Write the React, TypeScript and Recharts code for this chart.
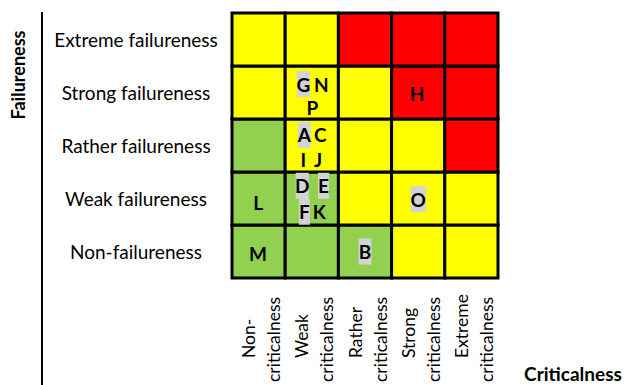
import { ScatterChart, Scatter, XAxis, YAxis, ReferenceArea } from "recharts";

const FONT = "Lato, 'Open Sans', sans-serif";

// failureness levels, bottom row first
const FAIL_LEVELS = [
  "Non-failureness",
  "Weak failureness",
  "Rather failureness",
  "Strong failureness",
  "Extreme failureness",
];
// criticalness levels, left column first (two text lines each)
const CRIT_FIRST = ["Non-", "Weak", "Rather", "Strong", "Extreme"];
const CRIT_SECOND = ["criticalness", "criticalness", "criticalness", "criticalness", "criticalness"];

// risk zone of every cell, rows from non-failureness up to extreme
const ZONES = [
  ["low", "low", "low", "mid", "mid"],
  ["low", "low", "mid", "mid", "mid"],
  ["low", "mid", "mid", "mid", "high"],
  ["mid", "mid", "mid", "high", "high"],
  ["mid", "mid", "high", "high", "high"],
];
const ZONE_COLORS: Record<string, string> = { low: "#92D050", mid: "#FFFF00", high: "#FF0000" };

// items placed in the matrix
const ITEM_NAMES = ["G", "N", "P", "A", "C", "I", "J", "D", "E", "F", "K", "L", "M", "B", "O", "H"];
const ITEM_CRIT = [1.34, 1.68, 1.51, 1.36, 1.66, 1.34, 1.62, 1.32, 1.72, 1.36, 1.64, 0.49, 0.49, 2.5, 3.5, 3.48];
const ITEM_FAIL = [3.66, 3.66, 3.21, 2.7, 2.7, 2.23, 2.23, 1.74, 1.74, 1.25, 1.25, 1.43, 0.47, 0.5, 1.49, 3.49];
const ITEM_MARKED = [true, false, false, true, false, false, false, true, true, true, false, false, false, true, true, false];

const TICKS = [0.5, 1.5, 2.5, 3.5, 4.5];

const items = ITEM_NAMES.map((name, i) => ({
  name,
  crit: ITEM_CRIT[i],
  fail: ITEM_FAIL[i],
  marked: ITEM_MARKED[i],
}));

const cells = ZONES.flatMap((row, r) => row.map((zone, c) => ({ r, c, zone })));

const markWidth = (s: string) => ("EF".includes(s) ? 11 : s === "O" ? 15 : 13);

const ItemShape = (props: any) => {
  const { cx, cy, payload } = props;
  const w = markWidth(payload.name);
  return (
    <g>
      {payload.marked && <rect x={cx - w / 2} y={cy - 13} width={w} height={26} fill="#D3D3D3" />}
      <text
        x={cx}
        y={cy}
        textAnchor="middle"
        dominantBaseline="central"
        fontFamily={FONT}
        fontWeight="bold"
        fontSize={19}
        fill="#000"
      >
        {payload.name}
      </text>
    </g>
  );
};

const FailTick = (props: any) => {
  const { y, payload } = props;
  const idx = TICKS.indexOf(payload.value);
  return (
    <text x={128} y={y} textAnchor="middle" dominantBaseline="central" fontFamily={FONT} fontSize={19} fill="#000">
      {FAIL_LEVELS[idx]}
    </text>
  );
};

// two rotated lines per column, read bottom to top
const CritTick = (props: any) => {
  const { x, payload } = props;
  const idx = TICKS.indexOf(payload.value);
  const lines = [
    { text: CRIT_FIRST[idx], lx: x - 10, ly: 350 },
    { text: CRIT_SECOND[idx], lx: x + 15, ly: 374 },
  ];
  return (
    <g>
      {lines.map((l, i) => (
        <text
          key={i}
          x={l.lx}
          y={l.ly}
          transform={`rotate(-90, ${l.lx}, ${l.ly})`}
          textAnchor="start"
          dominantBaseline="central"
          fontFamily={FONT}
          fontSize={17.5}
          fill="#000"
        >
          {l.text}
        </text>
      ))}
    </g>
  );
};

export default function App() {
  return (
    <div style={{ position: "relative", width: 636, height: 377 }}>
      <div style={{ position: "absolute", left: 33, top: 4, width: 2, height: 373, background: "#000" }} />
      <ScatterChart width={636} height={377} margin={{ top: 5, right: 146, bottom: 0, left: 0 }}>
        <XAxis
          type="number"
          dataKey="crit"
          domain={[0, 5]}
          ticks={TICKS}
          interval={0}
          height={107}
          axisLine={false}
          tickLine={false}
          tick={<CritTick />}
          label={{
            content: () => (
              <text x={565} y={365} textAnchor="middle" dominantBaseline="central" fontFamily={FONT} fontWeight="bold" fontSize={19} fill="#000">
                Criticalness
              </text>
            ),
          }}
        />
        <YAxis
          type="number"
          dataKey="fail"
          domain={[0, 5]}
          ticks={TICKS}
          interval={0}
          width={224}
          axisLine={false}
          tickLine={false}
          tick={<FailTick />}
          label={{
            content: () => (
              <text x={10} y={67} transform="rotate(-90, 10, 67)" textAnchor="middle" dominantBaseline="central" fontFamily={FONT} fontWeight="bold" fontSize={18} fill="#000">
                Failureness
              </text>
            ),
          }}
        />
        {cells.map((cell) => (
          <ReferenceArea
            key={`${cell.r}-${cell.c}`}
            x1={cell.c}
            x2={cell.c + 1}
            y1={cell.r}
            y2={cell.r + 1}
            fill={ZONE_COLORS[cell.zone]}
            fillOpacity={1}
            stroke="#000"
            strokeWidth={3}
          />
        ))}
        <Scatter data={items} shape={<ItemShape />} isAnimationActive={false} />
      </ScatterChart>
    </div>
  );
}
